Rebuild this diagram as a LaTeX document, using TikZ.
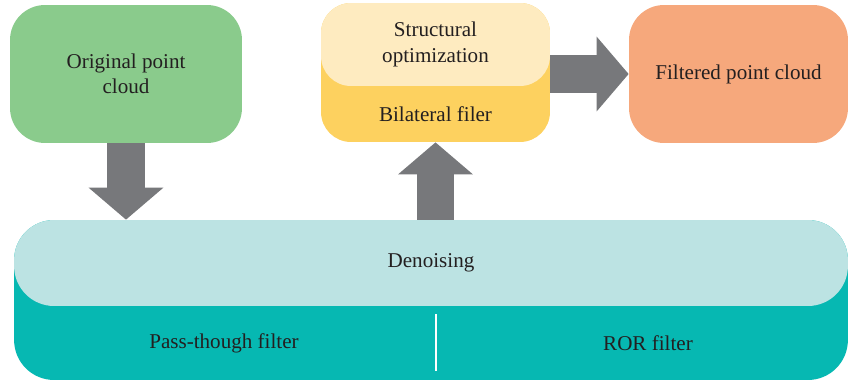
\documentclass[tikz,border=0pt]{standalone}
\usepackage{fontspec}
\setmainfont{Liberation Serif}
\usepackage{xcolor}
\usetikzlibrary{arrows.meta,positioning}

\definecolor{origgreen}{HTML}{8ACB8C}
\definecolor{optlight}{HTML}{FEEBC0}
\definecolor{optdark}{HTML}{FDD15F}
\definecolor{filtorange}{HTML}{F6A87C}
\definecolor{denlight}{HTML}{BCE3E3}
\definecolor{dendark}{HTML}{06B8B2}
\definecolor{flowgray}{HTML}{77787B}
\definecolor{txtgray}{HTML}{231F20}

\begin{document}
\begin{tikzpicture}[x=0.02cm, y=-0.02cm, font=\fontsize{12}{14.5}\selectfont, text=txtgray]
\tikzset{
  box/.style={rounded corners=0.7cm, inner sep=0pt, align=center},
  flow/.style={draw=flowgray, line width=0.76cm, -{Triangle[length=0.64cm, width=1.46cm]}}
}
\useasboundingbox (0,0) rectangle (850,383);

% top row
\node[box, fill=origgreen, minimum width=4.64cm, minimum height=2.76cm] (orig) at (126,74) {Original point\\cloud};
\node[box, fill=optdark, rounded corners=0.6cm, minimum width=4.58cm, minimum height=2.78cm] (bil) at (435.5,72.5) {};
\node[box, fill=optlight, rounded corners=0.6cm, minimum width=4.58cm, minimum height=1.66cm] (opt) at (435.5,44.5) {Structural\\optimization};
\node (biltxt) at (435.5,114) {Bilateral filer};
\node[box, fill=filtorange, minimum width=4.38cm, minimum height=2.76cm] (filt) at (738.5,74) {Filtered point cloud};

% denoising block
\node[box, fill=dendark, rounded corners=0.8cm, minimum width=16.68cm, minimum height=3.2cm] (den) at (431,300) {};
\node[box, fill=denlight, rounded corners=0.8cm, minimum width=16.68cm, minimum height=1.72cm] (dentop) at (431,263) {Denoising};
\node (pass) at (224,343) {Pass-though filter};
\node (ror) at (648,343) {ROR filter};
\coordinate (divtop) at (436,314);
\coordinate (divbot) at (436,371);
\draw[white, line width=0.6pt] (divtop) -- (divbot);

% flow arrows
\draw[flow] (orig.south) -- (orig.south |- den.north);
\draw[flow] (bil.south |- den.north) -- (bil.south);
\draw[flow] (filt.west -| bil.east) -- (filt.west);
\end{tikzpicture}
\end{document}
